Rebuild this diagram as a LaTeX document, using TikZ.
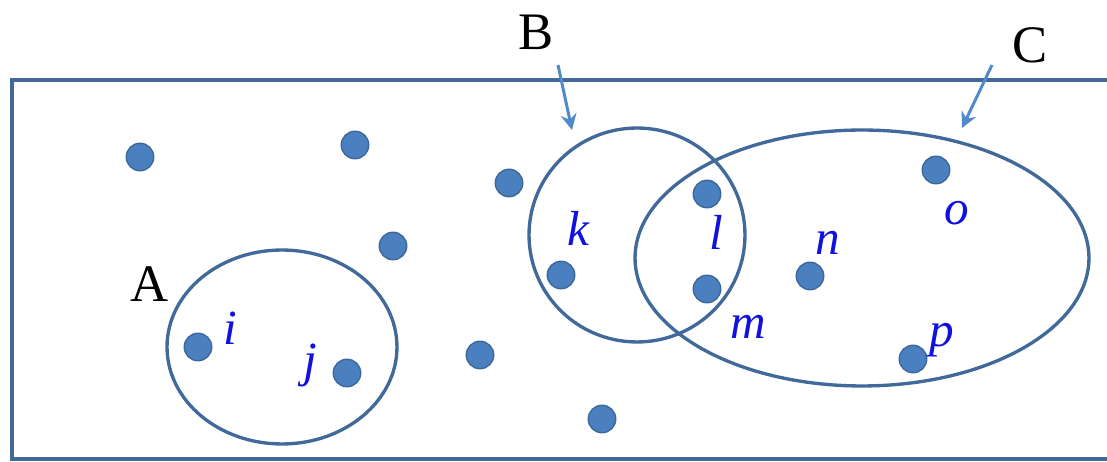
\documentclass[tikz,border=0pt]{standalone}
\usepackage{fontspec}
\setmainfont{Liberation Serif}
\usetikzlibrary{arrows.meta,shapes.geometric}
\definecolor{setline}{HTML}{41699A}
\definecolor{dotfill}{HTML}{4A7FC0}
\definecolor{dotline}{HTML}{3B679A}
\definecolor{pointer}{HTML}{5189CC}
\definecolor{elem}{HTML}{1010E0}
\tikzset{
  frame/.style={draw=setline, line width=2.3pt},
  setshape/.style={ellipse, draw=setline, line width=1.9pt, inner sep=0pt},
  dot/.style={circle, fill=dotfill, draw=dotline, line width=0.8pt, minimum size=0.55cm, inner sep=0pt},
  setlabel/.style={font=\fontsize{30}{30}\selectfont, text=black},
  elemlabel/.style={font=\fontsize{28}{28}\selectfont\itshape, text=elem},
  pointerline/.style={draw=pointer, line width=1.7pt, -{Stealth[length=9pt, width=9pt, inset=3pt]}},
}

\begin{document}
\begin{tikzpicture}[x=0.02cm, y=-0.02cm]
  \useasboundingbox (0,0) rectangle (1107,462);

  % Frame
  \draw[frame] (1107,80) -- (12,80) -- (12,459) -- (1107,459);

  % Sets
  \node[setshape, minimum width=4.6cm, minimum height=3.88cm] (setA) at (282,347) {};
  \node[setshape, minimum width=4.32cm, minimum height=4.28cm] (setB) at (637,235) {};
  \node[setshape, minimum width=9.08cm, minimum height=5.12cm] (setC) at (862,258) {};

  % Points
  \foreach \x/\y/\name in {140/157/p1, 355/145/p2, 509/183/p3, 393/246/p4,
      198/347/pi, 347/373/pj, 480/355/p7, 602/419/p8, 561/275/pk,
      707/194/pl, 707/289/pm, 810/276/pn, 936/170/po, 913/359/pp} {
    \node[dot] (\name) at (\x,\y) {};
  }

  % Element labels
  \foreach \x/\y/\t in {230/328/i, 310/365/j, 578/228/k, 716/232/l,
      748/327/m, 828/243/n, 957/213/o, 942/340/p} {
    \node[elemlabel] (lab\t) at (\x,\y) {\t};
  }

  % Set labels
  \node[setlabel] (labA) at (150,284) {A};
  \node[setlabel] (labB) at (536,32) {B};
  \node[setlabel] (labC) at (1030,45) {C};

  % Pointers
  \coordinate (bTail) at (558,65);
  \coordinate (bHead) at (572,130);
  \coordinate (cTail) at (992,65);
  \coordinate (cHead) at (962,128);
  \draw[pointerline] (bTail) -- (bHead);
  \draw[pointerline] (cTail) -- (cHead);
\end{tikzpicture}
\end{document}
